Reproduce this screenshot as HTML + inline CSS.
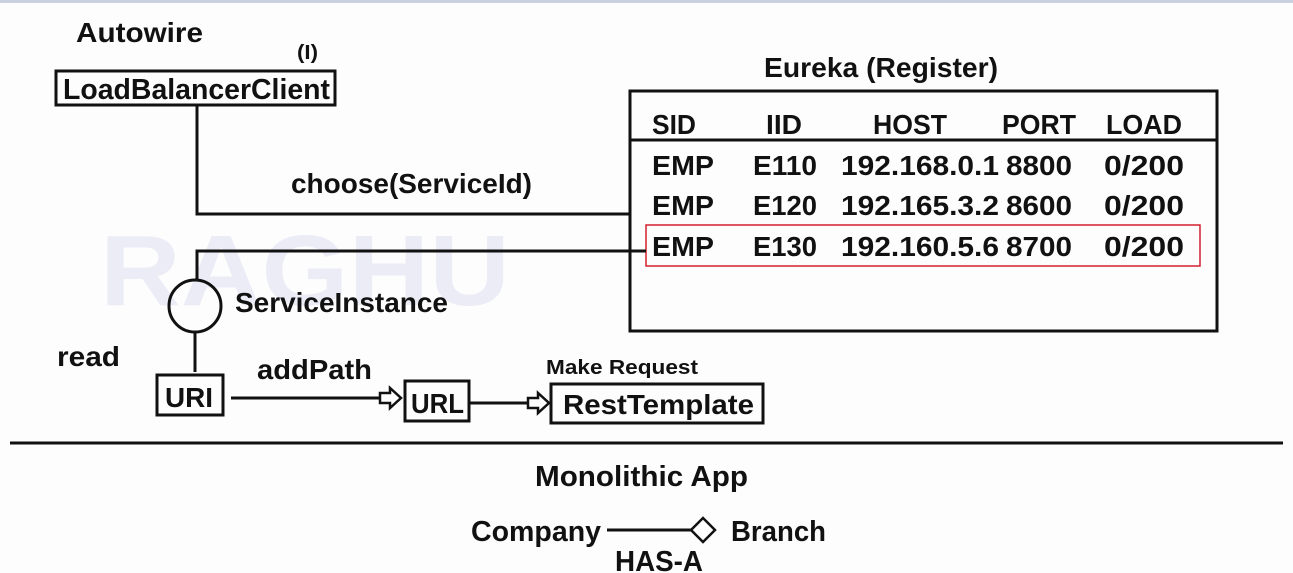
<!DOCTYPE html>
<html><head><style>
html,body{margin:0;padding:0;background:#fff;}
svg{display:block;}
text{font-family:"Liberation Sans",sans-serif;font-weight:bold;fill:#111;}
</style></head><body>
<svg width="1293" height="573" viewBox="0 0 1293 573" xmlns="http://www.w3.org/2000/svg">
<rect x="0" y="0" width="1293" height="573" fill="#fdfdfd"/>
<rect x="0" y="0" width="1293" height="3" fill="#c9d1e0"/>
<text x="100" y="305" font-size="100" textLength="410" lengthAdjust="spacingAndGlyphs" style="fill:#ececf7">RAGHU</text>

<text x="76" y="42" font-size="28" textLength="127" lengthAdjust="spacingAndGlyphs">Autowire</text>
<text x="297" y="59" font-size="20" textLength="21" lengthAdjust="spacingAndGlyphs">(I)</text>
<rect x="56" y="71" width="279" height="34" fill="none" stroke="#111" stroke-width="3"/>
<text x="63" y="99" font-size="29" textLength="267" lengthAdjust="spacingAndGlyphs">LoadBalancerClient</text>

<polyline points="197,106 197,214 630,214" fill="none" stroke="#111" stroke-width="3"/>
<text x="291" y="193" font-size="28" textLength="241" lengthAdjust="spacingAndGlyphs">choose(ServiceId)</text>

<text x="764" y="77" font-size="28" textLength="234" lengthAdjust="spacingAndGlyphs">Eureka (Register)</text>
<rect x="630" y="91" width="587" height="240" fill="none" stroke="#111" stroke-width="3"/>
<line x1="630" y1="140" x2="1217" y2="140" stroke="#111" stroke-width="3"/>
<g font-size="28">
<text x="652" y="134" textLength="44" lengthAdjust="spacingAndGlyphs">SID</text>
<text x="766" y="134" textLength="36" lengthAdjust="spacingAndGlyphs">IID</text>
<text x="873" y="134" textLength="74" lengthAdjust="spacingAndGlyphs">HOST</text>
<text x="1002" y="134" textLength="74" lengthAdjust="spacingAndGlyphs">PORT</text>
<text x="1106" y="134" textLength="76" lengthAdjust="spacingAndGlyphs">LOAD</text>
<text x="652" y="175" textLength="62" lengthAdjust="spacingAndGlyphs">EMP</text>
<text x="753" y="175" textLength="64" lengthAdjust="spacingAndGlyphs">E110</text>
<text x="841" y="175" textLength="158" lengthAdjust="spacingAndGlyphs">192.168.0.1</text>
<text x="1006" y="175" textLength="66" lengthAdjust="spacingAndGlyphs">8800</text>
<text x="1104" y="175" textLength="80" lengthAdjust="spacingAndGlyphs">0/200</text>
<text x="652" y="215" textLength="62" lengthAdjust="spacingAndGlyphs">EMP</text>
<text x="753" y="215" textLength="64" lengthAdjust="spacingAndGlyphs">E120</text>
<text x="841" y="215" textLength="158" lengthAdjust="spacingAndGlyphs">192.165.3.2</text>
<text x="1006" y="215" textLength="66" lengthAdjust="spacingAndGlyphs">8600</text>
<text x="1104" y="215" textLength="80" lengthAdjust="spacingAndGlyphs">0/200</text>
<text x="652" y="256" textLength="62" lengthAdjust="spacingAndGlyphs">EMP</text>
<text x="753" y="256" textLength="64" lengthAdjust="spacingAndGlyphs">E130</text>
<text x="841" y="256" textLength="158" lengthAdjust="spacingAndGlyphs">192.160.5.6</text>
<text x="1006" y="256" textLength="66" lengthAdjust="spacingAndGlyphs">8700</text>
<text x="1104" y="256" textLength="80" lengthAdjust="spacingAndGlyphs">0/200</text>
</g>
<rect x="646" y="225" width="554" height="41" fill="none" stroke="#d42030" stroke-width="1.5"/>

<polyline points="197,279 197,251 646,251" fill="none" stroke="#111" stroke-width="3"/>
<circle cx="195" cy="306" r="26" fill="none" stroke="#111" stroke-width="3"/>
<text x="235" y="312" font-size="28" textLength="213" lengthAdjust="spacingAndGlyphs">ServiceInstance</text>
<line x1="195" y1="332" x2="195" y2="372" stroke="#111" stroke-width="3"/>
<text x="57" y="366" font-size="28" textLength="63" lengthAdjust="spacingAndGlyphs">read</text>

<rect x="157" y="375" width="66" height="40" fill="none" stroke="#111" stroke-width="3"/>
<text x="165" y="407" font-size="28" textLength="48" lengthAdjust="spacingAndGlyphs">URI</text>
<text x="257" y="379" font-size="28" textLength="115" lengthAdjust="spacingAndGlyphs">addPath</text>
<line x1="231" y1="398" x2="380" y2="398" stroke="#111" stroke-width="3"/>
<polygon points="380,393 390,393 390,388 401,398 390,408 390,403 380,403" fill="#fff" stroke="#111" stroke-width="2.5"/>
<rect x="405" y="381" width="64" height="40" fill="none" stroke="#111" stroke-width="3"/>
<text x="411" y="413" font-size="28" textLength="53" lengthAdjust="spacingAndGlyphs">URL</text>
<line x1="470" y1="403" x2="528" y2="403" stroke="#111" stroke-width="3"/>
<polygon points="528,398 538,398 538,393 549,403 538,413 538,408 528,408" fill="#fff" stroke="#111" stroke-width="2.5"/>
<text x="546" y="374" font-size="20" textLength="152" lengthAdjust="spacingAndGlyphs">Make Request</text>
<rect x="551" y="384" width="212" height="39" fill="none" stroke="#111" stroke-width="3"/>
<text x="563" y="414" font-size="28" textLength="191" lengthAdjust="spacingAndGlyphs">RestTemplate</text>

<line x1="10" y1="443" x2="1283" y2="443" stroke="#111" stroke-width="3"/>
<text x="535" y="486" font-size="29" textLength="213" lengthAdjust="spacingAndGlyphs">Monolithic App</text>
<text x="471" y="541" font-size="29" textLength="130" lengthAdjust="spacingAndGlyphs">Company</text>
<line x1="607" y1="530" x2="691" y2="530" stroke="#111" stroke-width="3"/>
<polygon points="691,530 703,518 715,530 703,542" fill="#fff" stroke="#111" stroke-width="2.5"/>
<text x="731" y="541" font-size="29" textLength="95" lengthAdjust="spacingAndGlyphs">Branch</text>
<text x="615" y="571" font-size="29" textLength="88" lengthAdjust="spacingAndGlyphs">HAS-A</text>
</svg>
</body></html>
